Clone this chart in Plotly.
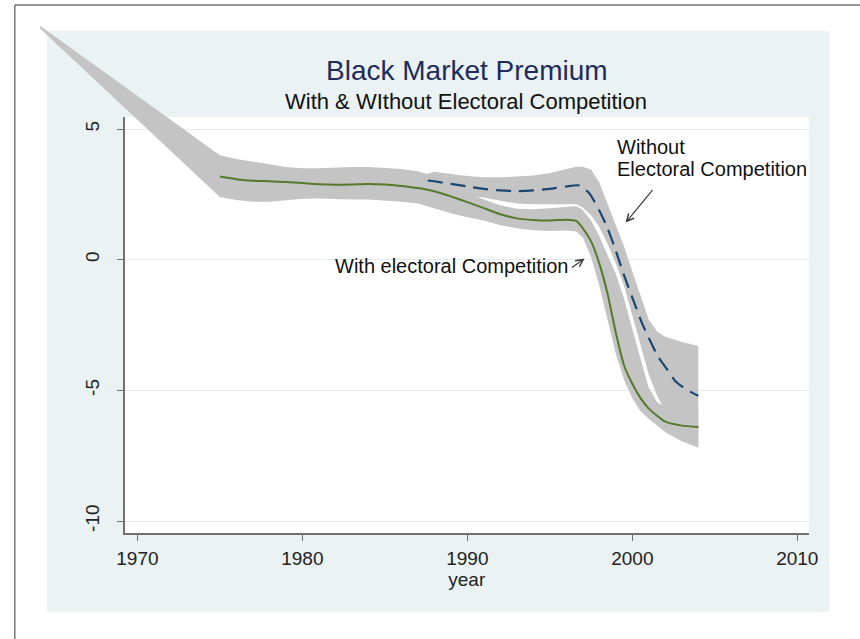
import plotly.graph_objects as go

# ---------------- data ----------------
# "With electoral competition" fitted line
with_years = [1975, 1976, 1977, 1978, 1979, 1980, 1981, 1982, 1983, 1984, 1985, 1986, 1987,
              1988, 1989, 1990, 1991, 1992, 1993, 1994, 1995, 1996, 1996.6, 1997, 1997.5,
              1998, 1998.5, 1999, 1999.5, 2000, 2000.5, 2001, 2002, 2003, 2004]
with_values = [3.18, 3.08, 3.02, 3.0, 2.97, 2.93, 2.89, 2.87, 2.88, 2.9, 2.88, 2.82, 2.74,
               2.62, 2.42, 2.2, 1.97, 1.74, 1.58, 1.52, 1.5, 1.53, 1.48, 1.2, 0.7,
               -0.15, -1.3, -2.8, -4.05, -4.75, -5.3, -5.7, -6.2, -6.35, -6.4]

# confidence band, with competition
with_ci_years = [1964.1, 1975, 1976, 1977, 1978, 1979, 1980, 1981, 1982, 1983, 1984, 1985, 1986,
                 1987, 1988, 1989, 1990, 1991, 1992, 1993, 1994, 1995, 1996, 1996.6, 1997,
                 1997.5, 1998, 1998.5, 1999, 1999.5, 2000, 2000.5, 2001, 2001.5, 2002, 2003, 2004]
with_ci_low = [8.85, 2.4, 2.28, 2.22, 2.22, 2.28, 2.33, 2.34, 2.32, 2.3, 2.3, 2.27, 2.22,
               2.15, 1.97, 1.78, 1.62, 1.5, 1.32, 1.2, 1.13, 1.1, 1.12, 1.08, 0.85,
               0.1, -1.0, -2.3, -3.6, -4.6, -5.3, -5.8, -6.1, -6.35, -6.6, -6.95, -7.2]
with_ci_high = [8.95, 4.0, 3.85, 3.74, 3.65, 3.55, 3.5, 3.5, 3.53, 3.55, 3.55, 3.52, 3.47,
                3.38, 3.2, 2.9, 2.55, 2.3, 2.08, 1.95, 1.93, 1.97, 2.02, 2.05, 1.9,
                1.5, 0.9, 0.2, -0.55, -1.5, -2.7, -3.8, -4.9, -5.45, -5.65, -5.75, -5.8]

# "Without electoral competition" fitted line
without_years = [1987.6, 1988, 1989, 1990, 1991, 1992, 1993, 1994, 1995, 1996, 1996.8, 1997.4,
                 1998, 1998.5, 1999, 1999.5, 2000, 2000.6, 2001, 2001.6, 2002, 2002.6, 2003,
                 2003.5, 2004]
without_values = [3.03, 3.0, 2.9, 2.8, 2.71, 2.65, 2.62, 2.65, 2.71, 2.8, 2.84, 2.53,
                  1.88, 1.2, 0.34, -0.6, -1.45, -2.45, -3.0, -3.75, -4.1, -4.64, -4.85,
                  -5.05, -5.21]

# confidence band, without competition
without_ci_years = [1987.6, 1988, 1989, 1990, 1991, 1992, 1993, 1994, 1995, 1996, 1996.6, 1997,
                    1997.5, 1998, 1998.5, 1999, 1999.5, 2000, 2000.5, 2001, 2001.5, 2002,
                    2003, 2004]
without_ci_low = [2.7, 2.62, 2.5, 2.45, 2.38, 2.25, 2.15, 2.12, 2.12, 2.12, 2.12, 2.0,
                  1.7, 1.25, 0.6, -0.15, -1.0, -2.2, -3.3, -4.4, -5.2, -5.8, -6.5, -7.0]
without_ci_high = [3.3, 3.36, 3.28, 3.2, 3.15, 3.15, 3.18, 3.22, 3.32, 3.48, 3.56, 3.56,
                   3.45, 2.95, 2.15, 1.37, 0.5, -0.45, -1.4, -2.3, -2.75, -2.95, -3.15, -3.3]

x_ticks = [1970, 1980, 1990, 2000, 2010]
y_ticks = [-10, -5, 0, 5]
y_ticktext = ["-10", "-5", "0", "5"]

# ---------------- layout geometry (pixels) ----------------
W, H = 860, 639
PL, PR, PT, PB = 119, 817, 117, 533          # plot region
X_RANGE = [1969.228, 2010.70]
Y_RANGE = [-10.459, 5.459]
BL, BT = 22, 16                               # larger (unclipped) drawing region
xs = (PR - PL) / (X_RANGE[1] - X_RANGE[0])
ys = (PB - PT) / (Y_RANGE[1] - Y_RANGE[0])
X2_RANGE = [X_RANGE[0] - (PL - BL) / xs, X_RANGE[1]]
Y2_RANGE = [Y_RANGE[0], Y_RANGE[1] + (PT - BT) / ys]


def fx(p):
    return p / W


def fy(p):
    return 1 - p / H


FONT = "Liberation Sans, Arial, Helvetica, sans-serif"
BAND = "#c4c4c4"
GREEN = "#56792b"
NAVY = "#1a476f"

fig = go.Figure()

# empty trace so that the visible axis pair is drawn
fig.add_trace(go.Scatter(x=[], y=[], xaxis="x", yaxis="y", mode="lines",
                         hoverinfo="skip", showlegend=False))

# bands
fig.add_trace(go.Scatter(
    x=with_ci_years + with_ci_years[::-1],
    y=with_ci_high + with_ci_low[::-1],
    fill="toself", fillcolor=BAND, mode="lines", line=dict(width=0, color=BAND),
    xaxis="x2", yaxis="y2", hoverinfo="skip", showlegend=False))
fig.add_trace(go.Scatter(
    x=without_ci_years + without_ci_years[::-1],
    y=without_ci_high + without_ci_low[::-1],
    fill="toself", fillcolor=BAND, mode="lines", line=dict(width=0, color=BAND),
    xaxis="x2", yaxis="y2", hoverinfo="skip", showlegend=False))

# lines
fig.add_trace(go.Scatter(
    x=with_years, y=with_values, mode="lines",
    line=dict(color=GREEN, width=2, shape="spline", smoothing=0.6),
    xaxis="x2", yaxis="y2", showlegend=False))
fig.add_trace(go.Scatter(
    x=without_years, y=without_values, mode="lines",
    line=dict(color=NAVY, width=2.2, dash="15px,8px", shape="spline", smoothing=0.6),
    xaxis="x2", yaxis="y2", showlegend=False))

AXC = "#707070"

fig.update_layout(
    width=W, height=H, autosize=False,
    margin=dict(l=0, r=0, t=0, b=0),
    paper_bgcolor="white",
    plot_bgcolor="rgba(0,0,0,0)",
    font=dict(family=FONT, color="#222222"),
    showlegend=False,
    xaxis=dict(
        domain=[fx(PL), fx(PR)], range=X_RANGE, anchor="y",
        tickvals=x_ticks, ticks="outside", ticklen=6, tickwidth=1.3, tickcolor=AXC,
        showline=True, linecolor=AXC, linewidth=1.5,
        showgrid=False, zeroline=False,
        tickfont=dict(size=19, family=FONT, color="#222222"),
        title=dict(text="year", font=dict(size=19, family=FONT, color="#222222"), standoff=0),
        ticklabelstandoff=1,
    ),
    yaxis=dict(
        domain=[fy(PB), fy(PT)], range=Y_RANGE, anchor="x",
        tickvals=y_ticks, ticktext=y_ticktext, tickangle=-90,
        ticks="outside", ticklen=6, tickwidth=1.3, tickcolor=AXC,
        showline=True, linecolor=AXC, linewidth=1.5,
        showgrid=True, gridcolor="#e3ebec", gridwidth=1.2, zeroline=False,
        tickfont=dict(size=19, family=FONT, color="#222222"),
        ticklabelstandoff=10,
    ),
    xaxis2=dict(domain=[fx(BL), fx(PR)], range=X2_RANGE, anchor="y2", visible=False),
    yaxis2=dict(domain=[fy(PB), fy(BT)], range=Y2_RANGE, anchor="x2", visible=False),
)

shapes = [
    # outer graph region
    dict(type="rect", xref="paper", yref="paper", x0=fx(40), x1=fx(838), y0=fy(612), y1=fy(31),
         fillcolor="#eaf2f3", line=dict(width=0), layer="below"),
    # plot region
    dict(type="rect", xref="paper", yref="paper", x0=fx(PL), x1=fx(PR), y0=fy(PB), y1=fy(PT),
         fillcolor="white", line=dict(width=0), layer="below"),
    # frame
    dict(type="rect", xref="paper", yref="paper", x0=fx(7), x1=1.05, y0=-0.05, y1=fy(5),
         fillcolor="rgba(0,0,0,0)", line=dict(width=1, color="#333333"), layer="below"),
]
fig.update_layout(shapes=shapes)

ann = [
    dict(text="Black Market Premium", x=fx(468), y=fy(70), xref="paper", yref="paper",
         showarrow=False, xanchor="center", yanchor="middle",
         font=dict(size=28, family=FONT, color="#1e2c5c")),
    dict(text="With & WIthout Electoral Competition", x=fx(467), y=fy(102), xref="paper", yref="paper",
         showarrow=False, xanchor="center", yanchor="middle",
         font=dict(size=22, family=FONT, color="#111111")),
    dict(text="Without", x=fx(619), y=fy(147), xref="paper", yref="paper",
         showarrow=False, xanchor="left", yanchor="middle",
         font=dict(size=20, family=FONT, color="#111111")),
    dict(text="Electoral Competition", x=fx(619), y=fy(169), xref="paper", yref="paper",
         showarrow=False, xanchor="left", yanchor="middle",
         font=dict(size=20, family=FONT, color="#111111")),
    dict(text="With electoral Competition", x=fx(573), y=fy(266), xref="paper", yref="paper",
         showarrow=False, xanchor="right", yanchor="middle",
         font=dict(size=20, family=FONT, color="#111111")),
    # arrows
    dict(text="", x=1999.6, y=1.42, xref="x2", yref="y2", ax=28, ay=-34,
         showarrow=True, arrowhead=5, arrowsize=1.3, arrowwidth=1.1, arrowcolor="#333333"),
    dict(text="", x=1997.1, y=0.04, xref="x2", yref="y2", ax=-14, ay=10,
         showarrow=True, arrowhead=5, arrowsize=1.3, arrowwidth=1.1, arrowcolor="#333333"),
]
fig.update_layout(annotations=ann)

fig.write_html(
    "out.html",
    config={"displayModeBar": False, "responsive": False},
    post_script="document.body.style.margin='0px';document.body.style.overflow='hidden';",
)
